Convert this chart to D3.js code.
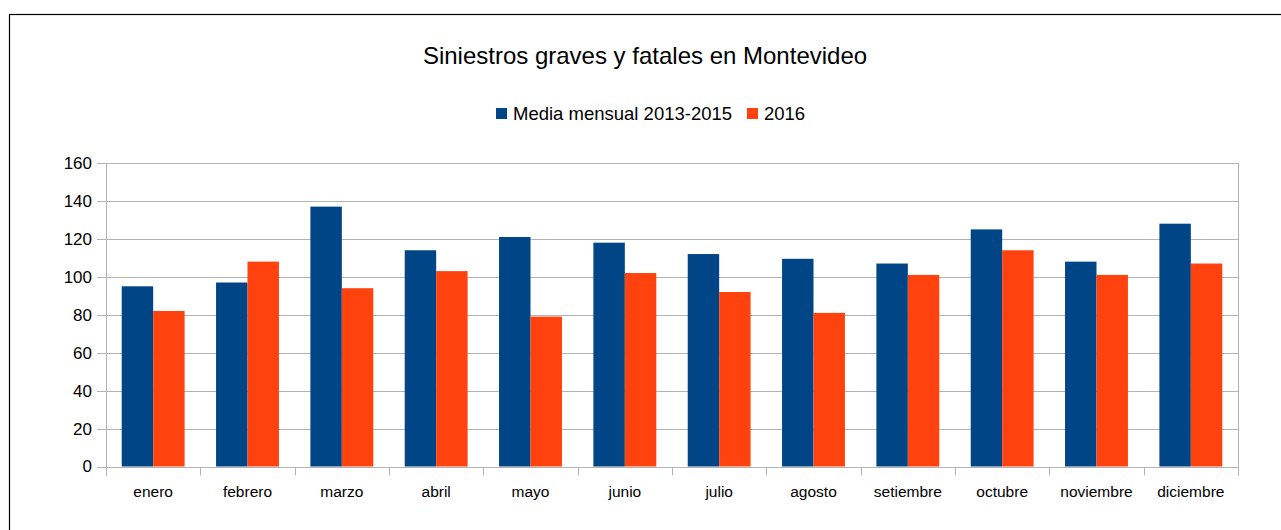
<!DOCTYPE html>
<html>
<head>
<meta charset="utf-8">
<script src="https://cdn.jsdelivr.net/npm/d3@7"></script>
<style>
  body { margin: 0; background: #fff; }
  svg { display: block; font-family: "Liberation Sans", Arial, sans-serif; }
</style>
</head>
<body>
<div id="chart"></div>
<script>
// Data
const months = ["enero", "febrero", "marzo", "abril", "mayo", "junio",
  "julio", "agosto", "setiembre", "octubre", "noviembre", "diciembre"];
const seriesNames = ["Media mensual 2013-2015", "2016"];
const media = [95, 97, 137, 114, 121, 118, 112, 109.5, 107, 125, 108, 128];
const y2016 = [82, 108, 94, 103, 79, 102, 92, 81, 101, 114, 101, 107];
const yTicks = [0, 20, 40, 60, 80, 100, 120, 140, 160];
const colors = ["#004586", "#ff420e"];

const width = 1281, height = 530;
const margin = { top: 163, right: 43, bottom: 63, left: 106 };

const svg = d3.select("#chart")
  .append("svg")
  .attr("width", width)
  .attr("height", height);

// outer frame
svg.append("rect")
  .attr("x", 9.5).attr("y", 14.5)
  .attr("width", width).attr("height", height)
  .attr("fill", "none")
  .attr("stroke", "#000")
  .attr("stroke-width", 1.2);

const x0 = d3.scaleBand()
  .domain(months)
  .range([margin.left, width - margin.right])
  .padding(0);

const x1 = d3.scaleBand()
  .domain([0, 1])
  .range([x0.bandwidth() / 6, x0.bandwidth() * 5 / 6])
  .padding(0);

const y = d3.scaleLinear()
  .domain([0, 160])
  .range([height - margin.bottom - 0.5, margin.top]);

// grid
svg.append("g")
  .selectAll("line")
  .data(yTicks)
  .join("line")
  .attr("x1", margin.left - 9)
  .attr("x2", width - margin.right)
  .attr("y1", d => Math.round(y(d)) + 0.5)
  .attr("y2", d => Math.round(y(d)) + 0.5)
  .attr("stroke", "#b3b3b3")
  .attr("stroke-width", 1);

// y labels
svg.append("g")
  .selectAll("text")
  .data(yTicks)
  .join("text")
  .attr("x", 92)
  .attr("y", d => y(d))
  .attr("dy", "0.35em")
  .attr("text-anchor", "end")
  .attr("font-size", 17)
  .attr("fill", "#000")
  .text(d => d);

// bars
const rows = months.map((m, i) => ({ month: m, values: [media[i], y2016[i]] }));

svg.append("g")
  .selectAll("g")
  .data(rows)
  .join("g")
  .attr("transform", d => `translate(${x0(d.month)},0)`)
  .selectAll("rect")
  .data(d => d.values.map((v, k) => ({ k, v })))
  .join("rect")
  .attr("x", d => x1(d.k))
  .attr("width", x1.bandwidth())
  .attr("y", d => y(d.v))
  .attr("height", d => y(0) - y(d.v))
  .attr("fill", d => colors[d.k]);

// axis lines
const yBase = Math.round(y(0)) + 0.5;
svg.append("line")
  .attr("x1", margin.left + 0.5).attr("x2", margin.left + 0.5)
  .attr("y1", margin.top).attr("y2", yBase + 8)
  .attr("stroke", "#b3b3b3");
svg.append("line")
  .attr("x1", width - margin.right + 0.5).attr("x2", width - margin.right + 0.5)
  .attr("y1", margin.top).attr("y2", yBase + 8)
  .attr("stroke", "#b3b3b3");

// category boundary ticks
const bounds = months.map(m => x0(m)).concat([width - margin.right]);
svg.append("g")
  .selectAll("line")
  .data(bounds)
  .join("line")
  .attr("x1", d => Math.round(d) + 0.5)
  .attr("x2", d => Math.round(d) + 0.5)
  .attr("y1", yBase)
  .attr("y2", yBase + 8)
  .attr("stroke", "#b3b3b3");

// x labels
svg.append("g")
  .selectAll("text")
  .data(months)
  .join("text")
  .attr("x", d => x0(d) + x0.bandwidth() / 2)
  .attr("y", 497)
  .attr("text-anchor", "middle")
  .attr("font-size", 15.5)
  .attr("fill", "#000")
  .text(d => d);

// title
svg.append("text")
  .attr("x", 645)
  .attr("y", 64)
  .attr("text-anchor", "middle")
  .attr("font-size", 24)
  .attr("fill", "#000")
  .text("Siniestros graves y fatales en Montevideo");

// legend
const legendX = [496, 747];
const legend = svg.append("g")
  .selectAll("g")
  .data(seriesNames)
  .join("g")
  .attr("transform", (d, i) => `translate(${legendX[i]},108)`);
legend.append("rect")
  .attr("width", 11).attr("height", 11)
  .attr("fill", (d, i) => colors[i]);
legend.append("text")
  .attr("x", 17)
  .attr("y", 12)
  .attr("font-size", 18.5)
  .attr("fill", "#000")
  .text(d => d);
</script>
</body>
</html>
